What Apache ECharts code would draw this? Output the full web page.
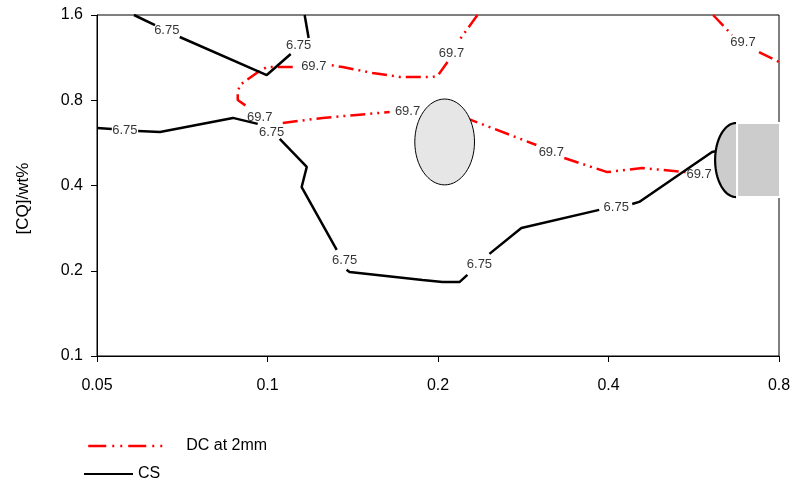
<!DOCTYPE html>
<html><head><meta charset="utf-8">
<script src="https://cdn.jsdelivr.net/npm/echarts@6/dist/echarts.min.js"></script>
<style>html,body{margin:0;padding:0;background:#fff}#c{width:800px;height:485px}</style>
</head><body><div id="c"></div>
<script>
// Tick values (log base 2 axes)
const xTicks = [0.05, 0.1, 0.2, 0.4, 0.8];
const yTicks = [0.1, 0.2, 0.4, 0.8, 1.6];

// CS contour (6.75), broken where labels sit
const csSeg1 = [[0.0581, 1.6], [0.0633, 1.475]];
const csSeg2 = [[0.0700, 1.338], [0.0997, 0.982], [0.1099, 1.165]];
const csSeg3 = [[0.1182, 1.327], [0.1163, 1.6]];
const csSeg4 = [[0.05, 0.638], [0.0531, 0.633]];
const csSeg5 = [[0.0591, 0.623], [0.0646, 0.618], [0.0869, 0.693], [0.0961, 0.660]];
const csSeg6 = [[0.1051, 0.584], [0.1173, 0.465], [0.1149, 0.395], [0.1325, 0.237]];
const csSeg7 = [[0.1379, 0.2015], [0.1396, 0.198], [0.1878, 0.1854], [0.2037, 0.1824], [0.2182, 0.1824], [0.2254, 0.1934]];
const csSeg8 = [[0.2465, 0.2294], [0.2807, 0.283], [0.3852, 0.328]];
const csSeg9 = [[0.4405, 0.344], [0.4532, 0.350], [0.6095, 0.525], [0.6195, 0.529]];

// DC at 2mm contour (69.7)
const dcSeg1 = [[0.2348, 1.6], [0.2182, 1.306]];
const dcSeg2 = [[0.2079, 1.092], [0.1996, 0.975], [0.1956, 0.967], [0.1711, 0.967], [0.1533, 0.999], [0.1357, 1.048], [0.1287, 1.066]];
const dcSeg3 = [[0.1108, 1.048], [0.0997, 1.048], [0.0957, 0.999], [0.0894, 0.906], [0.0886, 0.855], [0.0886, 0.802], [0.0923, 0.757]];
const dcSeg4 = [[0.1064, 0.665], [0.1251, 0.693], [0.1643, 0.727]];
const dcSeg5 = [[0.1932, 0.727], [0.2291, 0.681], [0.2983, 0.556]];
const dcSeg6 = [[0.3342, 0.500], [0.398, 0.446], [0.4587, 0.461], [0.5484, 0.446]];
const dcSeg7 = [[0.612, 1.6], [0.661, 1.360]];
const dcSeg8 = [[0.7375, 1.184], [0.8, 1.092]];

// Contour labels
const csLabels = [[0.0664, 1.416], [0.1135, 1.254], [0.056, 0.628], [0.1017, 0.618], [0.1368, 0.218], [0.2367, 0.2098], [0.4128, 0.336]];
const dcLabels = [[0.2113, 1.175], [0.1207, 1.057], [0.0969, 0.693], [0.1767, 0.733], [0.317, 0.525], [0.578, 0.436], [0.691, 1.284]];

// Shapes: [xMin, xMax, yMin, yMax]
const grainEllipse = [0.182, 0.232, 0.402, 0.808];
const capHalfEllipse = [0.617, 0.672, 0.364, 0.665];
const blockRect = [0.672, 0.8, 0.364, 0.665];

const FONT = 'Liberation Sans, Arial, sans-serif';
const csSegs = [csSeg1, csSeg2, csSeg3, csSeg4, csSeg5, csSeg6, csSeg7, csSeg8, csSeg9];
const dcSegs = [dcSeg1, dcSeg2, dcSeg3, dcSeg4, dcSeg5, dcSeg6, dcSeg7, dcSeg8];
const dcDash = [15, 5, 2, 5, 2, 5];

const series = [];
dcSegs.forEach(s => series.push({
  name: 'DC at 2mm', type: 'line', data: s, symbol: 'none', z: 3,
  lineStyle: { color: '#ff0000', width: 2.5, type: dcDash }, itemStyle: { color: '#ff0000' }
}));
csSegs.forEach(s => series.push({
  name: 'CS', type: 'line', data: s, symbol: 'none', z: 3,
  lineStyle: { color: '#000', width: 2.5 }, itemStyle: { color: '#000' }
}));
function labelSeries(pts, txt) {
  return {
    type: 'scatter', data: pts, symbolSize: 0, z: 6, silent: true,
    label: { show: true, position: 'inside', formatter: txt, color: '#000', fontSize: 13, fontFamily: FONT }
  };
}
series.push(labelSeries(csLabels, '6.75'));
series.push(labelSeries(dcLabels, '69.7'));

series.push({
  type: 'custom', z: 5, clip: false, silent: true,
  data: [grainEllipse],
  encode: { x: [0, 1], y: [2, 3] },
  renderItem: function (params, api) {
    const a = api.coord([api.value(0), api.value(3)]);
    const b = api.coord([api.value(1), api.value(2)]);
    return {
      type: 'ellipse',
      shape: { cx: (a[0] + b[0]) / 2, cy: (a[1] + b[1]) / 2, rx: Math.abs(b[0] - a[0]) / 2, ry: Math.abs(b[1] - a[1]) / 2 },
      style: { fill: '#e6e6e6', stroke: '#000', lineWidth: 1 }
    };
  }
});
series.push({
  type: 'custom', z: 5, clip: false, silent: true,
  data: [capHalfEllipse],
  encode: { x: [0, 1], y: [2, 3] },
  renderItem: function (params, api) {
    const a = api.coord([api.value(0), api.value(3)]);
    const b = api.coord([api.value(1), api.value(2)]);
    const cx = b[0], cy = (a[1] + b[1]) / 2, rx = b[0] - a[0], ry = Math.abs(b[1] - a[1]) / 2;
    const pts = [];
    for (let i = 0; i <= 40; i++) {
      const t = Math.PI / 2 + Math.PI * i / 40;
      pts.push([cx + rx * Math.cos(t), cy - ry * Math.sin(t)]);
    }
    return {
      type: 'group', children: [
        { type: 'polygon', shape: { points: pts }, style: { fill: '#cccccc', stroke: null } },
        { type: 'polyline', shape: { points: pts }, style: { fill: null, stroke: '#000', lineWidth: 2.2 } }
      ]
    };
  }
});
series.push({
  type: 'custom', z: 5, clip: false, silent: true,
  data: [blockRect],
  encode: { x: [0, 1], y: [2, 3] },
  renderItem: function (params, api) {
    const a = api.coord([api.value(0), api.value(3)]);
    const b = api.coord([api.value(1), api.value(2)]);
    return {
      type: 'rect',
      shape: { x: a[0] + 1, y: a[1], width: b[0] - a[0], height: b[1] - a[1] },
      style: { fill: '#cccccc', stroke: '#fff', lineWidth: 2 }
    };
  }
});

const chart = echarts.init(document.getElementById('c'), null, { renderer: 'canvas' });
chart.setOption({
  animation: false,
  backgroundColor: '#fff',
  grid: { left: 97, right: 21, top: 15, bottom: 129, show: true, borderColor: '#000', borderWidth: 1, containLabel: false },
  legend: [
    { data: ['DC at 2mm'], left: 82, top: 433, itemWidth: 76, itemHeight: 16, selectedMode: false,
      itemStyle: { opacity: 0 },
      lineStyle: { type: [18, 6, 2, 6, 2, 6], width: 2.5, color: '#ff0000' },
      textStyle: { fontSize: 16, color: '#000', fontFamily: FONT, padding: [0, 0, 0, 17] } },
    { data: ['CS'], left: 78, top: 461, itemWidth: 49, itemHeight: 16, selectedMode: false,
      itemStyle: { opacity: 0 },
      textStyle: { fontSize: 16, color: '#000', fontFamily: FONT, padding: [0, 0, 0, 0] } }
  ],
  xAxis: {
    type: 'log', logBase: 2, min: 0.05, max: 0.8,
    axisLine: { show: true, lineStyle: { color: '#000', width: 1 } },
    axisTick: { show: true, length: 6, customValues: xTicks, lineStyle: { color: '#000' } },
    axisLabel: { customValues: xTicks, margin: 22, fontSize: 16, color: '#000', fontFamily: FONT, formatter: v => String(+v.toPrecision(3)) },
    splitLine: { show: false }, minorTick: { show: false }
  },
  yAxis: {
    type: 'log', logBase: 2, min: 0.1, max: 1.6,
    name: '[CQ]/wt%', nameLocation: 'middle', nameGap: 65,
    nameTextStyle: { fontSize: 17, color: '#000', fontFamily: FONT, padding: [0, 26, 0, 0] },
    axisLine: { show: true, lineStyle: { color: '#000', width: 1 } },
    axisTick: { show: true, length: 6, customValues: yTicks, lineStyle: { color: '#000' } },
    axisLabel: { customValues: yTicks, margin: 14, fontSize: 16, color: '#000', fontFamily: FONT, formatter: v => String(+v.toPrecision(3)) },
    splitLine: { show: false }, minorTick: { show: false }
  },
  series: series
});
</script></body></html>
